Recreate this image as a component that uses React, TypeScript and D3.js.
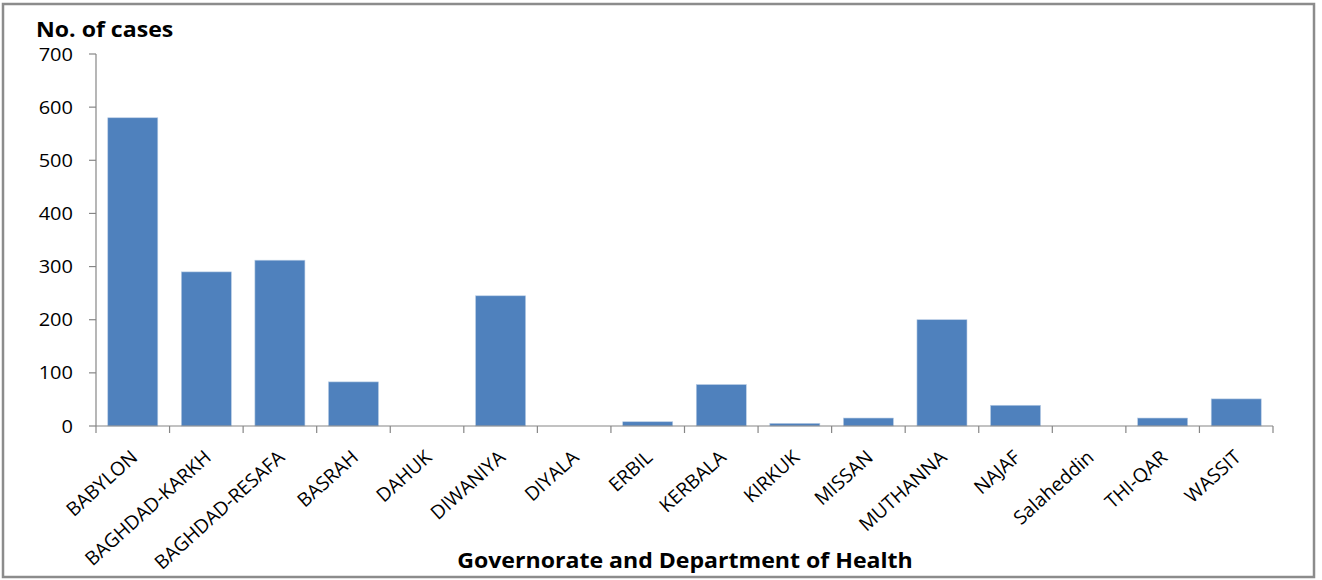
import React from "react";
import * as d3 from "d3";

const categories = [
  "BABYLON", "BAGHDAD-KARKH", "BAGHDAD-RESAFA", "BASRAH", "DAHUK", "DIWANIYA",
  "DIYALA", "ERBIL", "KERBALA", "KIRKUK", "MISSAN", "MUTHANNA", "NAJAF",
  "Salaheddin", "THI-QAR", "WASSIT",
];
const cases = [580, 290, 312, 83, 0, 245, 0, 8, 78, 5, 15, 200, 39, 0, 15, 51];
const yTicks = [0, 100, 200, 300, 400, 500, 600, 700];
const yTitle = "No. of cases";
const xTitle = "Governorate and Department of Health";

const W = 1322;
const H = 580;
const FONT = "'Open Sans', 'Noto Sans', sans-serif";
const SX = 1.1; // horizontal widening of the lettering

export default function App() {
  const left = 96, right = 1273, top = 54, bottom = 426;
  const x = d3.scaleBand<string>().domain(categories).range([left, right])
    .paddingInner(0.32).paddingOuter(0.16);
  const y = d3.scaleLinear().domain([0, 700]).range([bottom, top]);
  const step = x.step();
  const axisColor = "#868686";

  return (
    <svg width={W} height={H} style={{ position: "absolute", left: 0, top: 0, background: "#fff" }}>
      <rect x={3} y={4} width={1311} height={573} fill="#fff" stroke="#8c8c8c" strokeWidth={2.5} />
      {/* bars */}
      {categories.map((c, i) => (
        <rect key={c} x={x(c)} y={y(cases[i])} width={x.bandwidth()}
          height={bottom - y(cases[i])} fill="#4F81BD" stroke="#b9cde5" strokeWidth={0.6} />
      ))}
      {/* y axis */}
      <line x1={left} x2={left} y1={top} y2={bottom} stroke={axisColor} strokeWidth={1.2} />
      {yTicks.map((t) => (
        <g key={t}>
          <line x1={left - 7} x2={left} y1={y(t)} y2={y(t)} stroke={axisColor} strokeWidth={1.2} />
          <text transform={`translate(${left - 23},${y(t) + 6.5}) scale(${SX},1)`} textAnchor="end"
            fontFamily={FONT} fontSize={18.2} fill="#000">{t}</text>
        </g>
      ))}
      {/* x axis */}
      <line x1={left} x2={right} y1={bottom} y2={bottom} stroke={axisColor} strokeWidth={1.2} />
      {d3.range(categories.length + 1).map((i) => (
        <line key={i} x1={left + i * step} x2={left + i * step} y1={bottom} y2={bottom + 7}
          stroke={axisColor} strokeWidth={1.2} />
      ))}
      {categories.map((c) => {
        const cx = (x(c) as number) + x.bandwidth() / 2;
        return (
          <text key={c} transform={`translate(${cx + 6},${bottom + 33}) rotate(-42)`}
            textAnchor="end" fontFamily={FONT} fontSize={19.3} fill="#000">{c}</text>
        );
      })}
      {/* titles */}
      <text transform={`translate(36,37) scale(${SX},1)`} fontFamily={FONT} fontWeight={700}
        fontSize={21} fill="#000">{yTitle}</text>
      <text transform={`translate(685,568) scale(${SX},1)`} textAnchor="middle" fontFamily={FONT}
        fontWeight={700} fontSize={21} fill="#000">{xTitle}</text>
    </svg>
  );
}
